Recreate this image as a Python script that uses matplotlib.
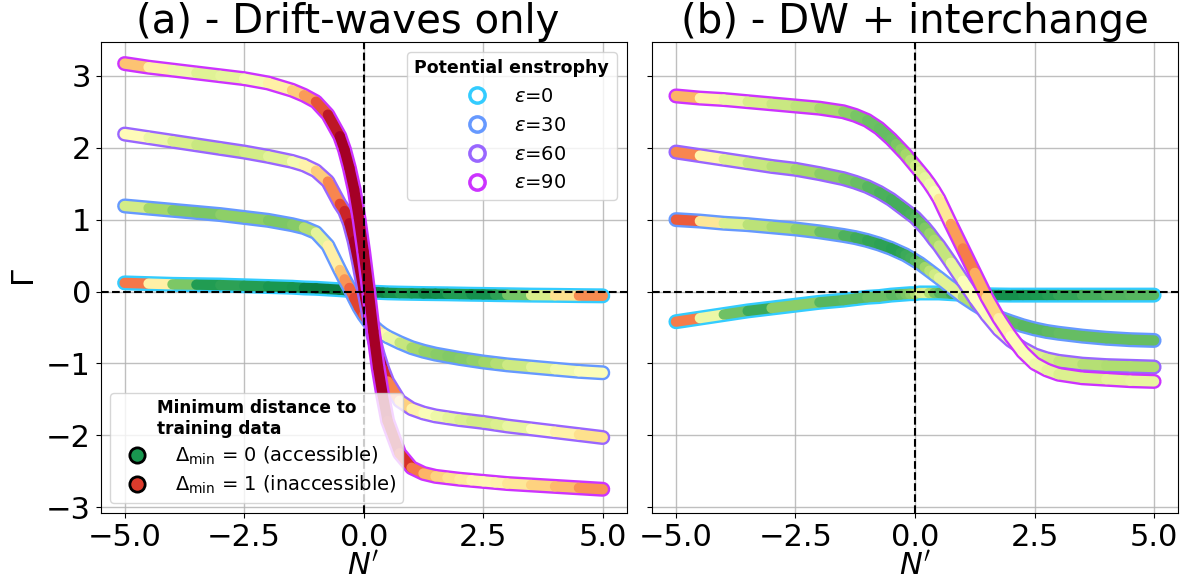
import numpy as np
import matplotlib
matplotlib.use("Agg")
import matplotlib.pyplot as plt
from matplotlib.collections import LineCollection
from matplotlib.lines import Line2D

# ---------------- data ----------------
N_prime = [-5, -4.5, -4, -3.5, -3, -2.5, -2, -1.5, -1.25, -1, -0.75, -0.5, -0.4, -0.3,
           -0.2, -0.1, 0, 0.1, 0.2, 0.3, 0.4, 0.5, 0.75, 1, 1.25,
           1.5, 1.75, 2, 2.25, 2.5, 2.75, 3, 3.5, 4, 4.5, 5]

epsilons = [0, 30, 60, 90]

# Panel (a): drift-waves only  -- flux Gamma
gamma_a_eps0 = [0.12, 0.11, 0.10, 0.095, 0.09, 0.08, 0.07, 0.06, 0.05, 0.045, 0.035, 0.025,
                0.02, 0.015, 0.01, 0.005, 0.0, -0.005, -0.01, -0.012, -0.015, -0.018,
                -0.022, -0.025, -0.028,
                -0.03, -0.032, -0.035, -0.038, -0.04, -0.043, -0.045, -0.05, -0.053,
                -0.057, -0.06]
gamma_a_eps30 = [1.19, 1.16, 1.13, 1.10, 1.07, 1.03, 0.99, 0.93, 0.89, 0.82, 0.64, 0.30,
                 0.17, 0.05, -0.09, -0.22, -0.33, -0.42, -0.48, -0.54, -0.59, -0.63,
                 -0.71, -0.78, -0.83,
                 -0.87, -0.90, -0.93, -0.955, -0.98, -1.0, -1.02, -1.05, -1.08, -1.11, -1.13]
gamma_a_eps60 = [2.19, 2.14, 2.09, 2.04, 1.99, 1.94, 1.88, 1.81, 1.76, 1.68, 1.53, 1.22,
                 1.12, 0.95, 0.70, 0.38, 0.02, -0.33, -0.62, -0.87, -1.08, -1.25, -1.52,
                 -1.63, -1.69,
                 -1.73, -1.755, -1.78, -1.80, -1.82, -1.845, -1.87, -1.91, -1.95, -1.99, -2.03]
gamma_a_eps90 = [3.17, 3.12, 3.08, 3.04, 3.00, 2.96, 2.90, 2.80, 2.73, 2.64, 2.46, 2.16,
                 1.97, 1.72, 1.42, 1.02, 0.55, 0.02, -0.55, -1.05, -1.45, -1.80, -2.25,
                 -2.45, -2.53,
                 -2.57, -2.59, -2.61, -2.625, -2.64, -2.655, -2.67, -2.69, -2.71, -2.73, -2.75]

# Panel (a): minimum distance to training data
dist_a_eps0 = [0.82, 0.75, 0.35, 0.12, 0.1, 0.15, 0.08, 0.12, 0.06, 0.04, 0.05, 0.04, 0.05,
               0.04, 0.05, 0.04, 0.04, 0.05, 0.04, 0.06, 0.05, 0.08, 0.1, 0.12, 0.08,
               0.06, 0.1, 0.12, 0.1, 0.07, 0.1, 0.15, 0.3, 0.5, 0.68, 0.82]
dist_a_eps30 = [0.45, 0.33, 0.27, 0.22, 0.25, 0.28, 0.25, 0.22, 0.28, 0.38, 0.48, 0.62, 0.7,
                0.78, 0.85, 0.88, 0.85, 0.78, 0.7, 0.62, 0.55, 0.5, 0.4, 0.32, 0.28,
                0.26, 0.25, 0.24, 0.26, 0.28, 0.31, 0.35, 0.4, 0.45, 0.48, 0.5]
dist_a_eps60 = [0.55, 0.48, 0.42, 0.38, 0.36, 0.38, 0.4, 0.45, 0.5, 0.58, 0.7, 0.82, 0.9,
                0.95, 1.0, 1.0, 1.0, 1.0, 1.0, 1.0, 0.95, 0.85, 0.68, 0.58, 0.5,
                0.47, 0.44, 0.42, 0.4, 0.38, 0.4, 0.42, 0.47, 0.52, 0.57, 0.62]
dist_a_eps90 = [0.72, 0.6, 0.5, 0.42, 0.42, 0.45, 0.5, 0.6, 0.68, 0.78, 0.9, 1.0, 1.0, 1.0,
                1.0, 1.0, 1.0, 1.0, 1.0, 1.0, 1.0, 1.0, 0.95, 0.85, 0.72,
                0.65, 0.6, 0.58, 0.55, 0.52, 0.53, 0.55, 0.6, 0.65, 0.7, 0.78]

# Panel (b): DW + interchange
gamma_b_eps0 = [-0.42, -0.37, -0.32, -0.27, -0.23, -0.19, -0.15, -0.12, -0.10, -0.08,
                -0.07, -0.05, -0.045, -0.04, -0.035, -0.03, -0.03, -0.02, -0.02, -0.02,
                -0.02, -0.02, -0.03, -0.04, -0.04,
                -0.045, -0.048, -0.05, -0.05, -0.05, -0.05, -0.05, -0.05, -0.05, -0.05, -0.05]
gamma_b_eps30 = [1.00, 0.98, 0.95, 0.93, 0.90, 0.87, 0.83, 0.78, 0.75, 0.71, 0.66, 0.60,
                 0.57, 0.54, 0.51, 0.47, 0.43, 0.39, 0.34, 0.29, 0.24, 0.19, 0.06, -0.07,
                 -0.18,
                 -0.28, -0.36, -0.42, -0.475, -0.52, -0.555, -0.58, -0.62, -0.65, -0.67, -0.68]
gamma_b_eps60 = [1.94, 1.89, 1.84, 1.79, 1.74, 1.70, 1.64, 1.57, 1.52, 1.46, 1.38, 1.28,
                 1.23, 1.18, 1.13, 1.08, 1.03, 0.96, 0.89, 0.81, 0.72, 0.64, 0.40, 0.15,
                 -0.10,
                 -0.33, -0.53, -0.68, -0.79, -0.88, -0.935, -0.97, -1.01, -1.03, -1.04, -1.05]
gamma_b_eps90 = [2.72, 2.69, 2.67, 2.64, 2.61, 2.58, 2.55, 2.50, 2.45, 2.38, 2.27, 2.12,
                 2.05, 1.98, 1.91, 1.83, 1.75, 1.67, 1.59, 1.50, 1.40, 1.29, 0.94, 0.60,
                 0.26,
                 -0.08, -0.37, -0.62, -0.84, -1.0, -1.09, -1.15, -1.20, -1.22, -1.24, -1.25]

dist_b_eps0 = [0.95, 0.6, 0.3, 0.13, 0.16, 0.36, 0.16, 0.2, 0.18, 0.2, 0.22, 0.2, 0.18,
               0.2, 0.22, 0.25, 0.28, 0.35, 0.45, 0.38, 0.26, 0.2, 0.16, 0.14, 0.12,
               0.1, 0.09, 0.08, 0.09, 0.1, 0.11, 0.12, 0.15, 0.17, 0.18, 0.18]
dist_b_eps30 = [0.95, 0.7, 0.45, 0.36, 0.32, 0.3, 0.24, 0.18, 0.16, 0.14, 0.13, 0.12, 0.12,
                0.12, 0.14, 0.15, 0.16, 0.2, 0.26, 0.32, 0.36, 0.4, 0.45, 0.4, 0.25,
                0.2, 0.2, 0.2, 0.19, 0.18, 0.19, 0.2, 0.2, 0.2, 0.2, 0.2]
dist_b_eps60 = [0.9, 0.62, 0.45, 0.38, 0.35, 0.32, 0.28, 0.24, 0.22, 0.19, 0.17, 0.16, 0.16,
                0.16, 0.16, 0.16, 0.17, 0.19, 0.22, 0.26, 0.3, 0.32, 0.4, 0.48, 0.5,
                0.5, 0.48, 0.47, 0.45, 0.42, 0.4, 0.38, 0.34, 0.32, 0.32, 0.32]
dist_b_eps90 = [0.78, 0.6, 0.48, 0.42, 0.38, 0.36, 0.33, 0.28, 0.24, 0.22, 0.2, 0.2, 0.22,
                0.25, 0.28, 0.32, 0.36, 0.4, 0.42, 0.45, 0.47, 0.5, 0.65, 0.8, 0.75,
                0.65, 0.58, 0.52, 0.5, 0.47, 0.45, 0.42, 0.4, 0.42, 0.44, 0.45]

panel_titles = ["(a) - Drift-waves only", "(b) - DW + interchange"]
x_ticks = [-5.0, -2.5, 0.0, 2.5, 5.0]
y_ticks = [-3, -2, -1, 0, 1, 2, 3]

gammas = [[gamma_a_eps0, gamma_a_eps30, gamma_a_eps60, gamma_a_eps90],
          [gamma_b_eps0, gamma_b_eps30, gamma_b_eps60, gamma_b_eps90]]
dists = [[dist_a_eps0, dist_a_eps30, dist_a_eps60, dist_a_eps90],
         [dist_b_eps0, dist_b_eps30, dist_b_eps60, dist_b_eps90]]

# ---------------- style ----------------
cmap = plt.get_cmap("RdYlGn_r")
edge_cmap = plt.get_cmap("cool")
eps_colors = [edge_cmap(v) for v in (0.2, 0.4, 0.6, 0.8)]

W, H = 1184, 581
fig = plt.figure(figsize=(W / 100, H / 100), dpi=100)
ax_a = fig.add_axes([100.7 / W, 1 - 513 / H, 526 / W, 471 / H])
ax_b = fig.add_axes([652 / W, 1 - 513 / H, 526 / W, 471 / H], sharey=ax_a)
axes = [ax_a, ax_b]
title_x = [0.47, 0.5]

x = np.asarray(N_prime, dtype=float)
for p, ax in enumerate(axes):
    ax.grid(True, color="#b0b0b0", lw=1.0, alpha=0.8, zorder=0)
    ax.set_axisbelow(True)
    for k in range(4):
        y = np.asarray(gammas[p][k], dtype=float)
        d = np.asarray(dists[p][k], dtype=float)
        z = 2 + 2 * k
        ax.plot(x, y, color=eps_colors[k], lw=10.8, solid_capstyle="round",
                solid_joinstyle="round", zorder=z)
        pts = np.column_stack([x, y]).reshape(-1, 1, 2)
        segs = np.concatenate([pts[:-1], pts[1:]], axis=1)
        cvals = 0.5 * (d[:-1] + d[1:])
        lc = LineCollection(segs, colors=cmap(cvals), linewidths=7.4,
                            capstyle="round", joinstyle="round", zorder=z + 1)
        ax.add_collection(lc)
    ax.axhline(0, color="black", ls="--", lw=1.5, zorder=20)
    ax.axvline(0, color="black", ls="--", lw=1.5, zorder=20)
    ax.set_xlim(-5.5, 5.5)
    ax.set_xticks(x_ticks)
    ax.set_title(panel_titles[p], fontsize=29, pad=4, x=title_x[p])
    ax.set_xlabel(r"$N'$", fontsize=22, labelpad=0)
    ax.tick_params(labelsize=22)

ax_a.set_ylim(-3.08, 3.47)
ax_a.set_yticks(y_ticks)
ax_a.set_ylabel(r"$\Gamma$", fontsize=22)
plt.setp(ax_b.get_yticklabels(), visible=False)

# legends
eps_handles = [Line2D([], [], ls="none", marker="o", markersize=11, markerfacecolor="none",
                      markeredgecolor=eps_colors[k], markeredgewidth=2.5,
                      label=r"$\varepsilon$=" + str(e)) for k, e in enumerate(epsilons)]
leg1 = ax_a.legend(handles=eps_handles, loc="upper right", fontsize=14,
                   title="Potential enstrophy",
                   title_fontproperties={"weight": "bold", "size": 12.5},
                   framealpha=0.8, borderpad=0.4, handletextpad=0.9,
                   labelspacing=0.5)
ax_a.add_artist(leg1)
leg1.set_zorder(30)

dist_handles = [
    Line2D([], [], ls="none", marker="o", markersize=11, markerfacecolor=cmap(0.1),
           markeredgecolor="black", markeredgewidth=2,
           label=r"$\Delta_{\min}$ = 0 (accessible)"),
    Line2D([], [], ls="none", marker="o", markersize=11, markerfacecolor=cmap(0.88),
           markeredgecolor="black", markeredgewidth=2,
           label=r"$\Delta_{\min}$ = 1 (inaccessible)"),
]
leg2 = ax_a.legend(handles=dist_handles, loc="lower left", fontsize=14,
                   title="Minimum distance to\ntraining data",
                   title_fontproperties={"weight": "bold", "size": 12.2},
                   framealpha=0.8, borderpad=0.35, handletextpad=0.95,
                   labelspacing=0.35)
leg2.set_zorder(30)

fig.savefig("out.png", dpi=100)
